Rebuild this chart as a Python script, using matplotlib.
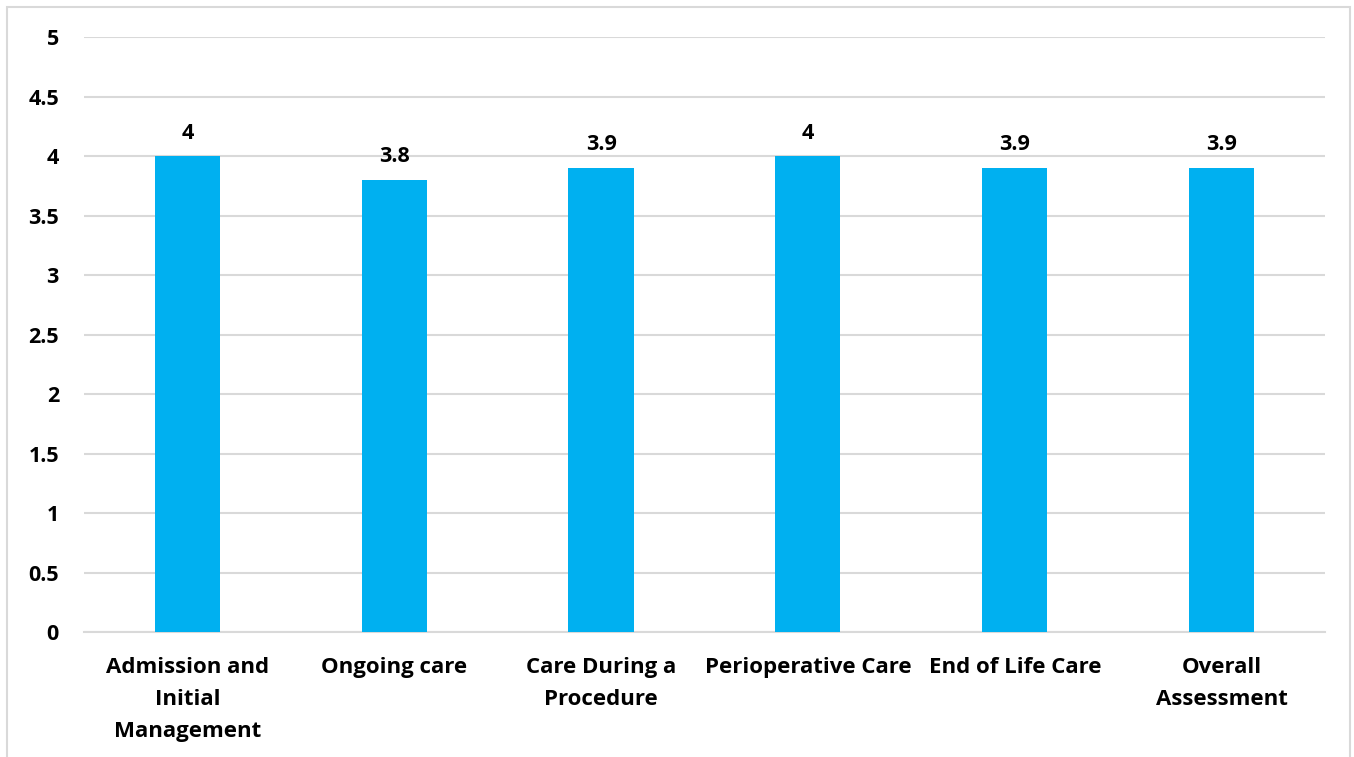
import matplotlib.pyplot as plt
from matplotlib.patches import Rectangle

categories = ['Admission and\nInitial\nManagement', 'Ongoing care',
              'Care During a\nProcedure', 'Perioperative Care',
              'End of Life Care', 'Overall\nAssessment']
scores = [4, 3.8, 3.9, 4, 3.9, 3.9]
yticks = [0, 0.5, 1, 1.5, 2, 2.5, 3, 3.5, 4, 4.5, 5]
ytick_labels = ['0', '0.5', '1', '1.5', '2', '2.5', '3', '3.5', '4', '4.5', '5']

plt.rcParams['font.family'] = ['Open Sans', 'DejaVu Sans']
plt.rcParams['font.weight'] = 'bold'

fig = plt.figure(figsize=(13.54, 7.57), dpi=100)
ax = fig.add_axes([0.062, 0.1651, 0.9166, 0.786])

# chart frame around everything
fig.patches.append(Rectangle((7 / 1354, -0.05), 1343 / 1354, 1.05 - 7 / 757,
                             transform=fig.transFigure, fill=False,
                             edgecolor='#d9d9d9', linewidth=1.5))

x = range(len(categories))
ax.bar(x, scores, width=0.315, color='#00B0F0', zorder=3)
for i, v in enumerate(scores):
    ax.annotate(f'{v:g}', (i, v), xytext=(0, 9), textcoords='offset points',
                ha='center', va='bottom', fontsize=15.5, fontweight='bold')

ax.set_xlim(-0.5, len(categories) - 0.5)
ax.set_ylim(0, 5)
ax.set_yticks(yticks)
ax.set_yticklabels(ytick_labels, fontsize=15.5, fontweight='bold')
ax.set_xticks(list(x))
ax.set_xticklabels(categories, fontsize=16, fontweight='bold', linespacing=1.7)
ax.tick_params(axis='both', length=0)
ax.tick_params(axis='y', pad=18)
ax.tick_params(axis='x', pad=18)

ax.grid(axis='y', color='#d9d9d9', linewidth=1.5, zorder=0)
for s in ['top', 'right', 'left']:
    ax.spines[s].set_visible(False)
ax.spines['bottom'].set_color('#d9d9d9')
ax.spines['bottom'].set_linewidth(1.5)

fig.savefig('out.png', dpi=100)
